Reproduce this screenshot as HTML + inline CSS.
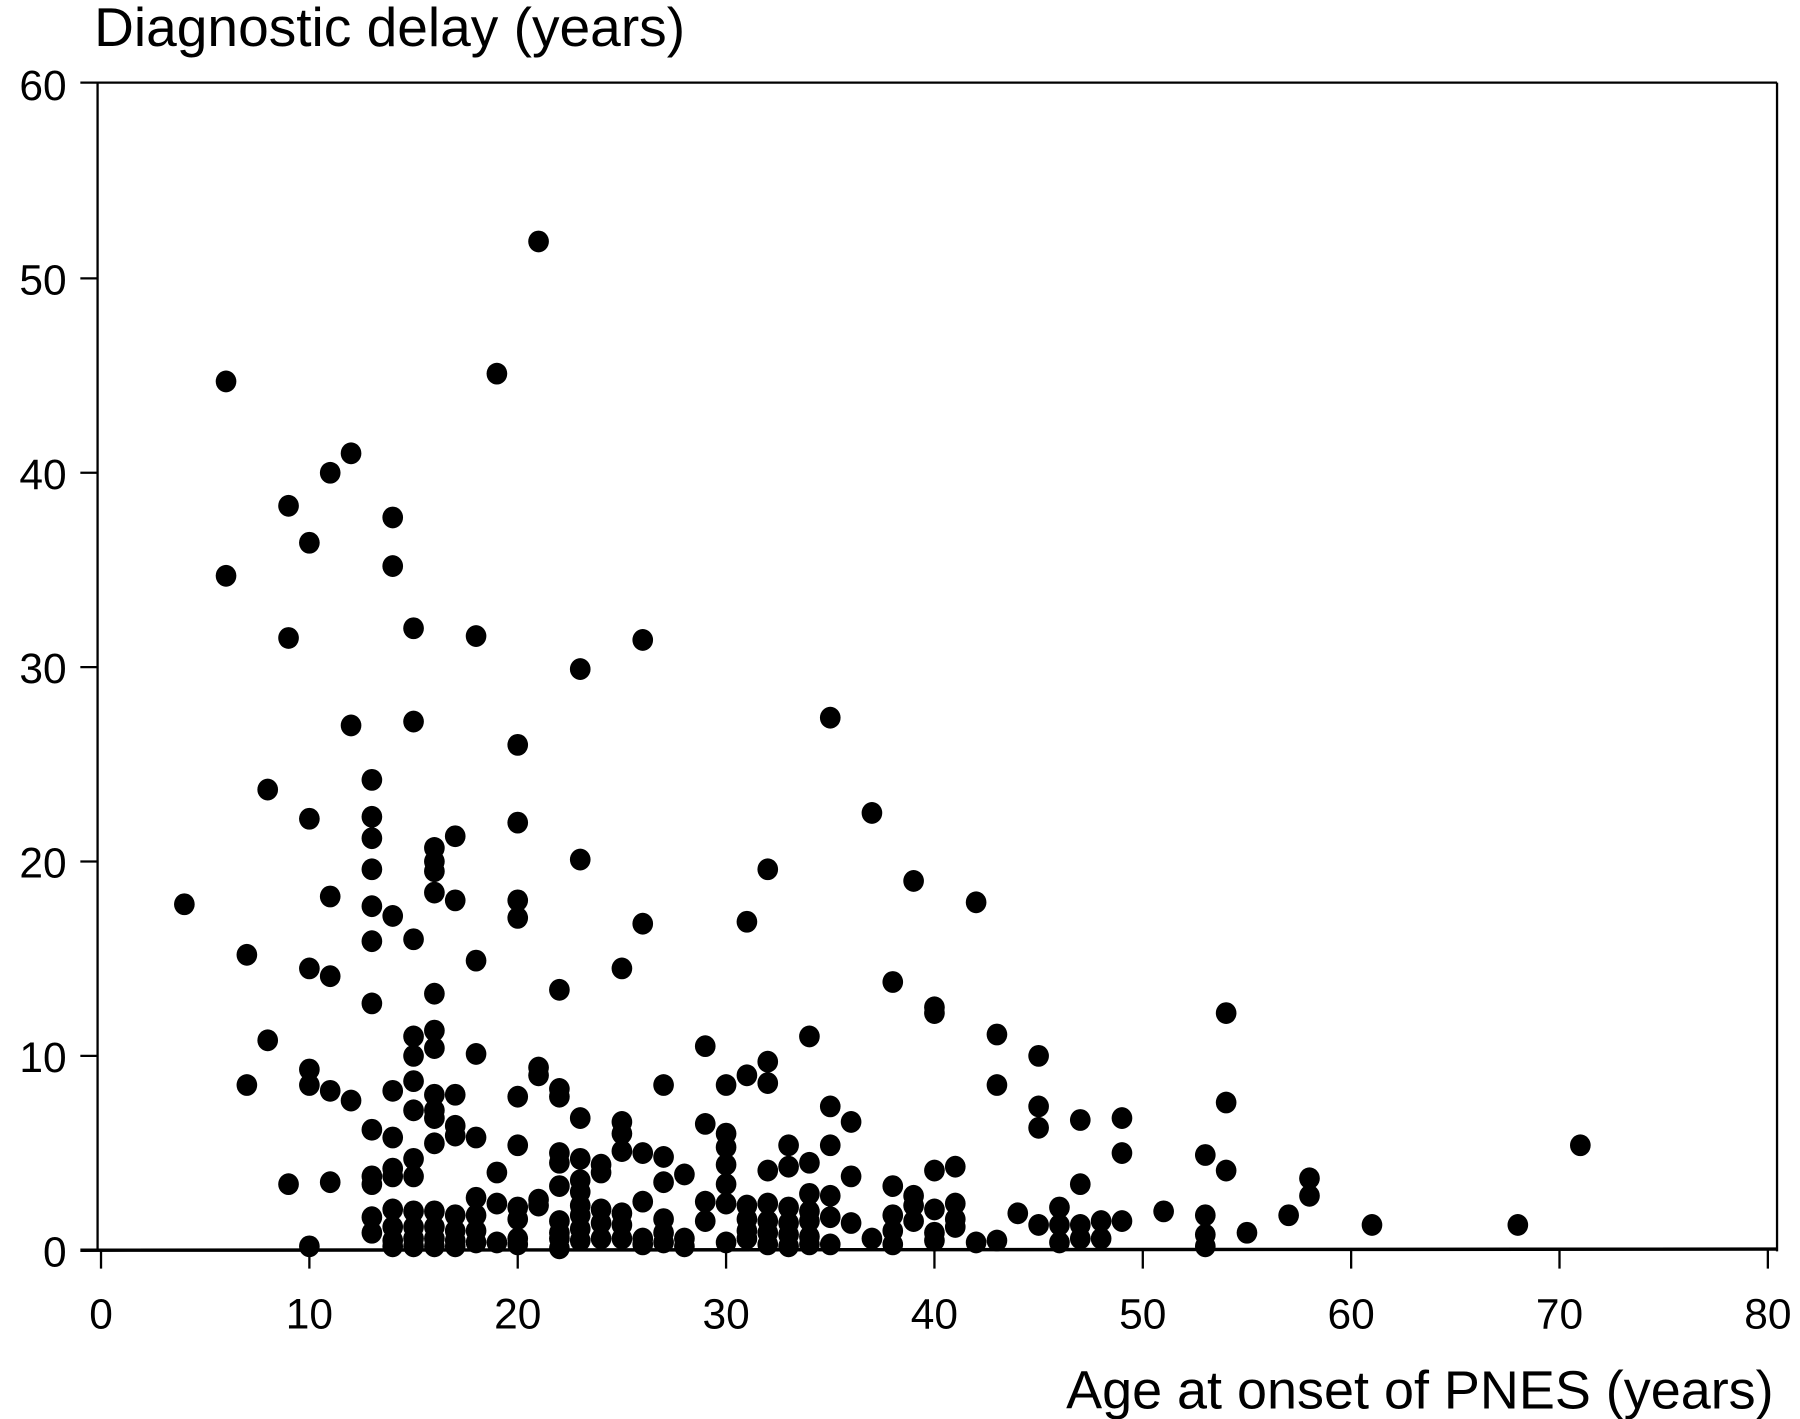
<!DOCTYPE html>
<html><head><meta charset="utf-8"><style>
html,body{margin:0;padding:0;background:#fff;}
svg{display:block;}
text{font-family:"Liberation Sans",sans-serif;fill:#000;}
</style></head><body>
<svg id="s" width="1800" height="1419" viewBox="0 0 1568 1236" preserveAspectRatio="none" xmlns="http://www.w3.org/2000/svg">
<rect width="1568" height="1236" fill="#fff"/>
<g stroke="#000" stroke-width="2" fill="none">
<line x1="70" y1="72" x2="1548" y2="72"/>
<line x1="85" y1="72" x2="85" y2="1090"/>
<line x1="1548" y1="72" x2="1548" y2="1090"/>
<line x1="70" y1="1089" x2="1548" y2="1088" stroke-width="3"/>
</g>
<g id="ticks" stroke="#000" stroke-width="2"></g>
<g id="lab" font-size="37"></g>
<text x="82" y="40" font-size="48">Diagnostic delay (years)</text>
<text x="1545" y="1227" font-size="47" text-anchor="end">Age at onset of PNES (years)</text>
<g id="pts" fill="#000"></g>
</svg>
<script>
var NS="http://www.w3.org/2000/svg";
function el(t,a,p,txt){var e=document.createElementNS(NS,t);for(var k in a)e.setAttribute(k,a[k]);if(txt!==undefined)e.textContent=txt;document.getElementById(p).appendChild(e);}
function X(v){return 88+18.15*v;}function Y(v){return 1089-16.93*v;}
for(var i=0;i<=6;i++){var y=Y(i*10);if(i>0&&i<6)el('line',{x1:70,x2:85,y1:y,y2:y},'ticks');el('text',{x:58,y:y+14,'text-anchor':'end'},'lab',''+i*10);}
for(var i=0;i<=8;i++){var x=X(i*10);el('line',{x1:x,x2:x,y1:1089,y2:1105},'ticks');el('text',{x:x,y:1157,'text-anchor':'middle'},'lab',''+i*10);}
var d=[[4,17.8],[6,44.7],[6,34.7],[7,15.2],[7,8.5],[8,23.7],[8,10.8],[9,38.3],[9,31.5],[9,3.4],[10,36.4],[10,22.2],[10,14.5],[10,9.3],[10,8.5],[10,0.2],[11,40],[11,18.2],[11,14.1],[11,8.2],[11,3.5],[12,41],[12,27],[12,7.7],
[13,24.2],[13,22.3],[13,21.2],[13,19.6],[13,17.7],[13,15.9],[13,12.7],[13,6.2],[13,3.8],[13,3.4],[13,1.7],[13,0.9],
[14,37.7],[14,35.2],[14,17.2],[14,8.2],[14,5.8],[14,4.2],[14,3.8],[14,2.1],[14,1.2],[14,0.5],[14,0.2],
[15,32],[15,27.2],[15,16],[15,11],[15,10],[15,8.7],[15,7.2],[15,4.7],[15,3.8],[15,2],[15,1.2],[15,0.6],[15,0.2],
[16,20.7],[16,20],[16,19.5],[16,18.4],[16,13.2],[16,11.3],[16,10.4],[16,8],[16,7.2],[16,6.8],[16,5.5],[16,2],[16,1.2],[16,0.6],[16,0.2],
[17,21.3],[17,18],[17,8],[17,6.4],[17,5.9],[17,1.8],[17,1],[17,0.5],[17,0.2],
[18,31.6],[18,14.9],[18,10.1],[18,5.8],[18,2.7],[18,1.8],[18,1],[18,0.4],
[19,45.1],[19,4],[19,2.4],[19,0.4],
[20,26],[20,22],[20,18],[20,17.1],[20,7.9],[20,5.4],[20,2.2],[20,1.6],[20,0.6],[20,0.3],
[21,51.9],[21,9.4],[21,9],[21,2.6],[21,2.3],
[22,13.4],[22,8.3],[22,7.9],[22,5],[22,4.5],[22,3.3],[22,1.5],[22,0.9],[22,0.6],[22,0.1],
[23,29.9],[23,20.1],[23,6.8],[23,4.7],[23,3.6],[23,3],[23,2.3],[23,1.8],[23,1.1],[23,0.5],
[24,4.4],[24,4],[24,2.1],[24,1.4],[24,0.6],
[25,14.5],[25,6.6],[25,6],[25,5.1],[25,1.9],[25,1.3],[25,0.6],
[26,31.4],[26,16.8],[26,5],[26,2.5],[26,0.6],[26,0.3],
[27,8.5],[27,4.8],[27,3.5],[27,1.6],[27,0.9],[27,0.4],[28,3.9],[28,0.6],[28,0.2],
[29,10.5],[29,6.5],[29,2.5],[29,1.5],
[30,8.5],[30,6],[30,5.3],[30,4.4],[30,3.4],[30,2.4],[30,0.4],
[31,16.9],[31,9],[31,2.3],[31,1.6],[31,1],[31,0.6],
[32,19.6],[32,9.7],[32,8.6],[32,4.1],[32,2.4],[32,1.5],[32,0.9],[32,0.3],
[33,5.4],[33,4.3],[33,2.2],[33,1.4],[33,0.8],[33,0.2],
[34,11],[34,4.5],[34,2.9],[34,2],[34,1.5],[34,0.7],[34,0.3],
[35,27.4],[35,7.4],[35,5.4],[35,2.8],[35,1.7],[35,0.3],
[36,6.6],[36,3.8],[36,1.4],[37,22.5],[37,0.6],
[38,13.8],[38,3.3],[38,1.8],[38,1],[38,0.3],
[39,19],[39,2.8],[39,2.3],[39,1.5],
[40,12.5],[40,12.2],[40,4.1],[40,2.1],[40,0.9],[40,0.5],
[41,4.3],[41,2.4],[41,1.6],[41,1.2],[42,17.9],[42,0.4],[43,11.1],[43,8.5],[43,0.5],[44,1.9],
[45,10],[45,7.4],[45,6.3],[45,1.3],[46,2.2],[46,1.3],[46,0.4],[47,6.7],[47,3.4],[47,1.3],[47,0.6],[48,1.5],[48,0.6],[49,6.8],[49,5],[49,1.5],[51,2],
[53,4.9],[53,1.8],[53,0.8],[53,0.2],[54,12.2],[54,7.6],[54,4.1],[55,0.9],[57,1.8],[58,3.7],[58,2.8],[61,1.3],[68,1.3],[71,5.4]];
d.forEach(function(p){el('ellipse',{cx:X(p[0]),cy:Y(p[1]),rx:9,ry:9.5},'pts');});
</script>
</body></html>
